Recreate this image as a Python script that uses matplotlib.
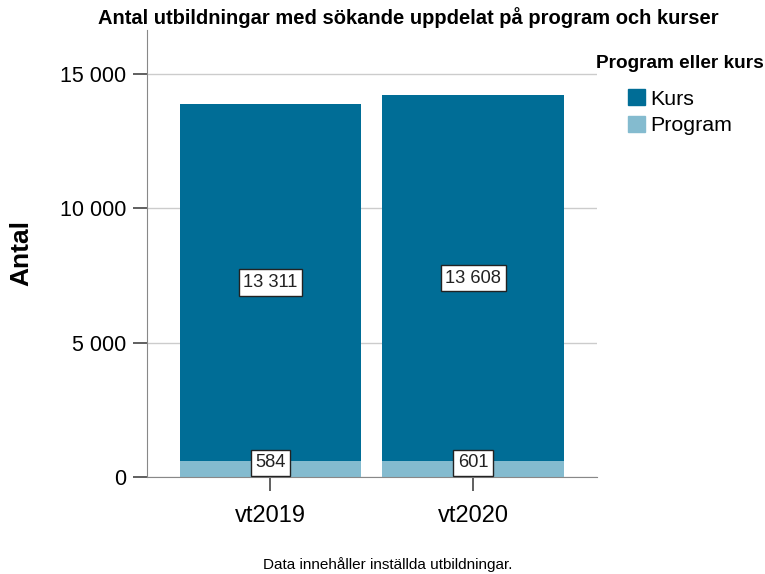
import matplotlib
matplotlib.use("Agg")
import matplotlib.pyplot as plt
from matplotlib.patches import Patch
import numpy as np

plt.rcParams["font.family"] = ["Liberation Sans", "DejaVu Sans"]

terms = ["vt2019", "vt2020"]
program = [584, 601]
kurs = [13311, 13608]
yticks = [0, 5000, 10000, 15000]
ytick_labels = ["0", "5 000", "10 000", "15 000"]

KURS_COLOR = "#006d96"
PROGRAM_COLOR = "#84bbcf"


def fmt(v):
    return f"{v:,}".replace(",", " ")


fig = plt.figure(figsize=(7.65, 5.74), dpi=100)
ax = fig.add_axes([0.192, 0.169, 0.588, 0.779])

x = np.arange(len(terms))
width = 0.897
ax.bar(x, program, width, color=PROGRAM_COLOR, zorder=2)
ax.bar(x, kurs, width, bottom=program, color=KURS_COLOR, zorder=2)

box = dict(boxstyle="square,pad=0.25", facecolor="white", edgecolor="#222222", linewidth=1)
for xi, p, k in zip(x, program, kurs):
    # small segment: label sits on the x axis, like the original
    ax.annotate(fmt(p), xy=(xi, 0), xytext=(0, 4), textcoords="offset points",
                ha="center", va="bottom", fontsize=13.2, color="#222222", bbox=box, zorder=4)
    ax.text(xi, p + k / 2, fmt(k), ha="center", va="center", fontsize=13.2,
            color="#222222", bbox=box, zorder=4)

ax.set_xlim(-0.61, 1.61)
ax.set_ylim(0, 16650)
ax.set_yticks(yticks, ytick_labels)
ax.set_xticks(x, terms)
ax.tick_params(axis="y", labelsize=15.5, length=10, width=1.2, color="#444444", pad=5)
ax.tick_params(axis="x", labelsize=17, length=10, width=1.2, color="#444444", pad=10)
ax.grid(axis="y", color="#cccccc", linewidth=1, zorder=0)
ax.spines[["top", "right"]].set_visible(False)
ax.spines["left"].set_color("#888888")
ax.spines["bottom"].set_color("#888888")
ax.set_ylabel("Antal", fontsize=19, fontweight="bold")
ax.yaxis.set_label_coords(-0.253, 0.5)

fig.text(408 / 765, 1 - 18 / 574, "Antal utbildningar med sökande uppdelat på program och kurser",
         ha="center", va="center", fontsize=14.5, fontweight="bold")
fig.text(388 / 765, 1 - 565 / 574, "Data innehåller inställda utbildningar.",
         ha="center", va="center", fontsize=11)

fig.text(680 / 765, 1 - 64 / 574, "Program eller kurs", ha="center", va="center",
         fontsize=13.7, fontweight="bold")
handles = [Patch(color=KURS_COLOR), Patch(color=PROGRAM_COLOR)]
leg = fig.legend(handles, ["Kurs", "Program"],
                 loc="upper center", bbox_to_anchor=(680 / 765, 1 - 89 / 574),
                 frameon=False, fontsize=15.4, handlelength=0.8, handleheight=0.8,
                 handletextpad=0.2, labelspacing=0.33, borderaxespad=0, borderpad=0)

fig.savefig("out.png", dpi=100)
